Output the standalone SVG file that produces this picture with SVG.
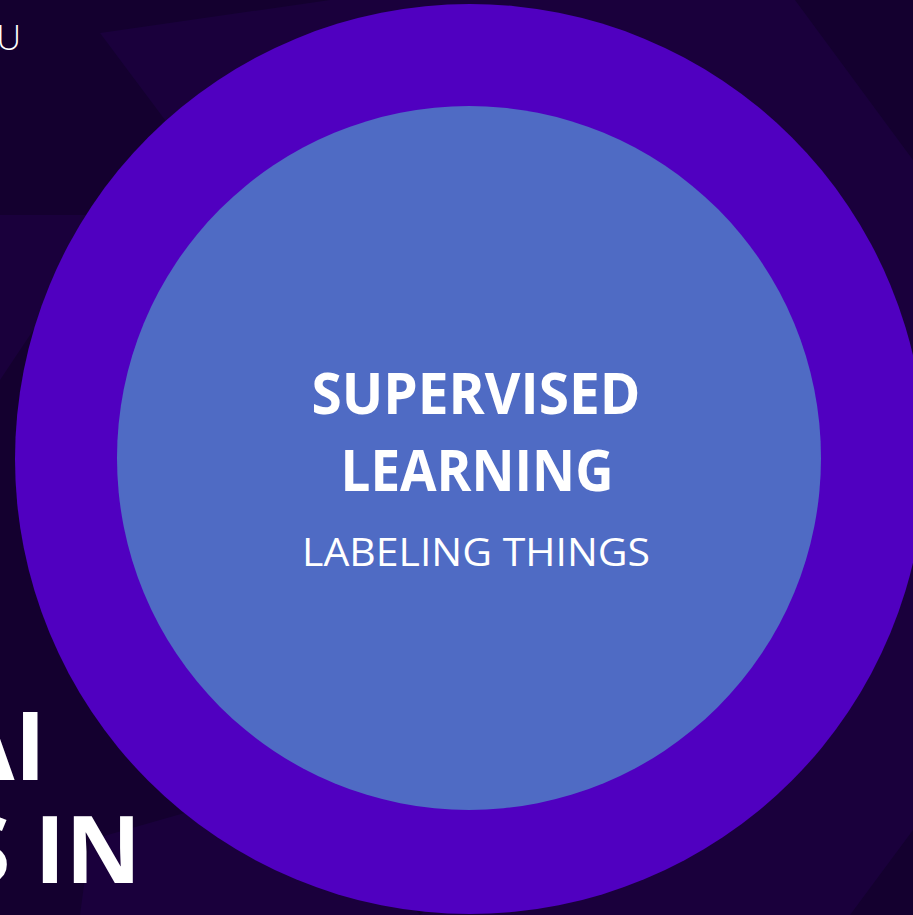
<svg xmlns="http://www.w3.org/2000/svg" width="913" height="915" viewBox="0 0 913 915">
  <style>
    .bg { fill: #14002f; }
    .bgl { fill: #1a003c; }
    .t { fill: #ffffff; font-family: "Open Sans", "Liberation Sans", sans-serif; }
    .b { font-weight: 700; }
  </style>
  <g id="background">
    <rect class="bg" x="0" y="0" width="913" height="915"/>
    <polygon class="bgl" points="100,33 330,0 795,0 913,160 913,760 600,760 470,460 165,120"/>
    <polygon class="bgl" points="0,215 110,215 0,380"/>
    <polygon class="bgl" points="600,760 913,760 913,830 850,915 420,915"/>
    <polygon class="bgl" points="90,840 300,780 420,915 80,915"/>
  </g>
  <g id="outer-circle">
    <circle cx="470" cy="459" r="455" fill="#5000c0"/>
  </g>
  <g id="inner-circle">
    <circle cx="469" cy="458" r="352" fill="#4f6bc4"/>
  </g>
  <g id="labels">
    <text class="t b" x="476" y="414" font-size="58" text-anchor="middle" textLength="329" lengthAdjust="spacingAndGlyphs">SUPERVISED</text>
    <text class="t b" x="477" y="491" font-size="58" text-anchor="middle" textLength="273" lengthAdjust="spacingAndGlyphs">LEARNING</text>
    <text class="t" x="476" y="566" font-size="38" text-anchor="middle" textLength="348" lengthAdjust="spacingAndGlyphs">LABELING THINGS</text>
  </g>
  <g id="side-text">
    <text class="t" x="21" y="50" font-size="34" font-weight="300" text-anchor="end">U</text>
    <text class="t b" x="46" y="780" font-size="95" text-anchor="end">AI</text>
    <text class="t b" x="141" y="883" font-size="93" text-anchor="end">S IN</text>
  </g>
</svg>
